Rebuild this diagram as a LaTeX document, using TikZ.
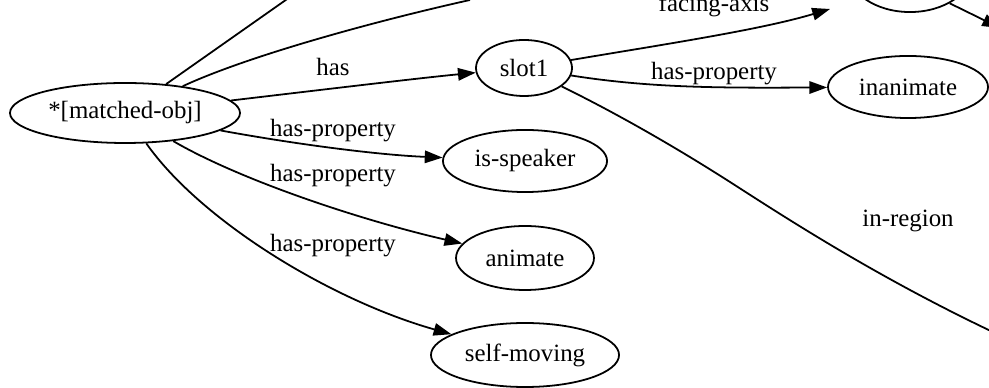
\documentclass[tikz,border=0pt]{standalone}
\usepackage{fontspec}
\setmainfont{Liberation Serif}
\usetikzlibrary{arrows.meta,shapes.geometric}

\tikzset{
	obj/.style={draw, ellipse, line width=1pt, inner sep=0pt, font=\fontsize{14pt}{16pt}\selectfont},
	rel/.style={line width=1pt, -{Triangle[length=10pt, width=7pt]}},
	bare/.style={line width=1pt},
	lbl/.style={font=\fontsize{14pt}{16pt}\selectfont, inner sep=0pt}
}

\begin{document}
\begin{tikzpicture}[x=0.5625pt, y=-0.5625pt]
			%%%%% START %%%%%
			
			\useasboundingbox (0,0) rectangle (989,388);
			\clip (0,0) rectangle (989,388);
			
			\node[obj, minimum width=129.4pt, minimum height=33.75pt] (matched) at (125,113) {*[matched-obj]};
			\node[obj, minimum width=54pt, minimum height=31.5pt] (slot) at (524,68) {slot1};
			\node[obj, minimum width=90pt, minimum height=34.9pt] (inanim) at (908,87) {inanimate};
			\node[obj, minimum width=92.3pt, minimum height=34.9pt] (isspeaker) at (525,161) {is-speaker};
			\node[obj, minimum width=77.6pt, minimum height=36pt] (animate) at (525,258) {animate};
			\node[obj, minimum width=105.8pt, minimum height=36pt] (selfmoving) at (525,355) {self-moving};
			\node[obj, minimum width=69.8pt, minimum height=47.3pt] (axis) at (910,-30) {};
			
			\coordinate (offA) at (300,-10);
			\coordinate (offB) at (470,0);
			\coordinate (axisin) at (830,9);
			\coordinate (offC) at (1010,340);
			\coordinate (offD) at (1000,28);
			
			% edges leaving the top
			\draw[bare] (matched) -- (offA);
			\draw[bare] (matched) .. controls (250,55) and (380,20) .. (offB);
			
			% matched-obj
			\draw[rel] (matched) .. controls (320,90) and (420,78) .. (slot);
			\draw[rel] (matched) .. controls (300,145) and (380,155) .. (isspeaker);
			\draw[rel] (matched) .. controls (240,180) and (360,220) .. (animate);
			\draw[rel] (matched) .. controls (200,220) and (330,300) .. (selfmoving);
			
			% slot1
			\draw[rel] (slot) .. controls (650,88) and (720,88) .. (inanim);
			\draw[rel] (slot) .. controls (660,45) and (760,30) .. (axisin);
			\draw[bare] (slot) .. controls (620,115) and (680,150) .. (730,182) .. controls (780,214) and (880,280) .. (offC);
			\draw[rel] (axis.-40) -- (offD);
			
			\node[lbl] (lhas) at (333,67) {has};
			\node[lbl] (lhp1) at (333,131) {has-property};
			\node[lbl] (lhp2) at (333,176) {has-property};
			\node[lbl] (lhp3) at (333,246) {has-property};
			\node[lbl] (lhp4) at (714,74) {has-property};
			\node[lbl, anchor=base] (lface) at (714,12) {facing-axis};
			\node[lbl] (lreg) at (908,221) {in-region};
			
			%%%%% END %%%%%
\end{tikzpicture}
\end{document}
